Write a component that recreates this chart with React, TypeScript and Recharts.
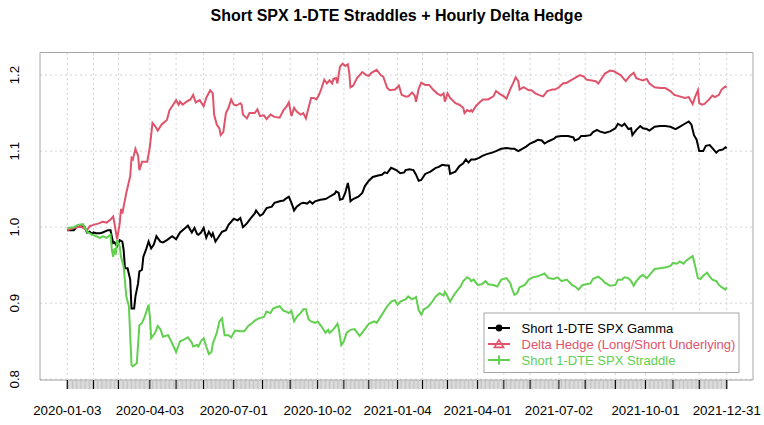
import React from "react";
import { LineChart, Line, XAxis, YAxis, CartesianGrid, ReferenceLine, ReferenceArea } from "recharts";

// trading-day index (0 = 2020-01-03) and cumulative value
const GAMMA: [number, number][] = [
  [0, 0.996], [5, 0.996], [7, 1.0], [10, 1.001], [13, 1.001], [15, 0.993], [17, 0.994], [19, 0.991], [20, 0.993],
  [22, 0.992], [25, 0.992], [27, 0.993], [31, 0.996], [33, 0.996], [35, 0.979], [36, 0.98], [38, 0.975], [39, 0.979],
  [40, 0.983], [42, 0.981], [43, 0.97], [44, 0.946], [46, 0.946], [48, 0.931], [49, 0.893], [51, 0.893], [52, 0.909],
  [54, 0.926], [55, 0.942], [57, 0.944], [58, 0.961], [60, 0.97], [62, 0.981], [64, 0.972], [66, 0.977], [68, 0.988],
  [71, 0.981], [73, 0.98], [76, 0.983], [80, 0.988], [83, 0.984], [86, 0.993], [90, 0.999], [92, 1.002], [95, 0.993],
  [97, 0.999], [99, 0.991], [100, 0.99], [102, 0.993], [104, 0.999], [106, 0.986], [108, 0.994], [110, 0.988],
  [111, 0.992], [113, 0.981], [115, 0.986], [118, 0.994], [121, 0.996], [123, 1.003], [127, 1.011], [130, 1.009],
  [132, 1.012], [134, 1.0], [137, 1.005], [140, 1.012], [143, 1.018], [144, 1.022], [147, 1.015], [149, 1.017],
  [152, 1.025], [156, 1.027], [158, 1.032], [162, 1.034], [165, 1.035], [167, 1.038], [169, 1.04], [171, 1.032],
  [173, 1.022], [175, 1.027], [178, 1.031], [180, 1.032], [183, 1.031], [185, 1.034], [187, 1.031], [189, 1.034],
  [193, 1.036], [197, 1.037], [200, 1.04], [204, 1.044], [205, 1.047], [207, 1.045], [208, 1.036], [210, 1.037],
  [212, 1.045], [214, 1.058], [215, 1.049], [216, 1.034], [218, 1.037], [222, 1.04], [225, 1.045], [227, 1.054],
  [230, 1.061], [233, 1.066], [237, 1.068], [240, 1.069], [242, 1.072], [244, 1.071], [247, 1.078], [251, 1.075],
  [254, 1.071], [257, 1.072], [258, 1.075], [261, 1.076], [264, 1.075], [266, 1.069], [268, 1.061], [270, 1.062],
  [273, 1.07], [277, 1.073], [281, 1.078], [283, 1.079], [286, 1.082], [289, 1.081], [291, 1.081], [292, 1.07],
  [296, 1.073], [299, 1.08], [302, 1.084], [304, 1.089], [306, 1.085], [308, 1.089], [311, 1.089], [314, 1.091],
  [317, 1.094], [320, 1.096], [324, 1.098], [327, 1.1], [331, 1.103], [335, 1.104], [339, 1.103], [341, 1.103],
  [344, 1.1], [347, 1.103], [350, 1.106], [353, 1.11], [357, 1.113], [359, 1.115], [362, 1.114], [364, 1.11],
  [367, 1.113], [371, 1.116], [373, 1.119], [377, 1.12], [382, 1.12], [386, 1.118], [387, 1.114], [390, 1.116],
  [392, 1.12], [395, 1.12], [399, 1.121], [401, 1.125], [404, 1.128], [406, 1.126], [410, 1.124], [414, 1.126],
  [418, 1.13], [420, 1.136], [423, 1.133], [425, 1.136], [428, 1.129], [430, 1.13], [431, 1.121], [434, 1.128],
  [437, 1.133], [439, 1.13], [442, 1.129], [444, 1.127], [448, 1.132], [452, 1.133], [456, 1.133], [460, 1.132],
  [464, 1.129], [467, 1.132], [471, 1.136], [474, 1.139], [476, 1.135], [478, 1.121], [480, 1.115], [482, 1.1],
  [485, 1.1], [487, 1.107], [490, 1.108], [492, 1.104], [495, 1.098], [497, 1.101], [500, 1.102], [502, 1.105],
  [503, 1.104],
];

const HEDGE: [number, number][] = [
  [0, 0.996], [5, 0.999], [10, 1.001], [12, 0.999], [15, 0.996], [17, 1.001], [20, 1.003], [24, 1.005], [27, 1.007],
  [30, 1.006], [33, 1.01], [35, 1.014], [36, 1.005], [38, 0.984], [40, 1.005], [41, 1.024], [42, 1.018], [43, 1.027],
  [45, 1.045], [48, 1.067], [49, 1.091], [50, 1.089], [52, 1.103], [54, 1.094], [55, 1.075], [57, 1.086], [61, 1.086],
  [63, 1.106], [65, 1.137], [67, 1.133], [69, 1.127], [72, 1.135], [76, 1.141], [78, 1.154], [80, 1.159], [83, 1.167],
  [85, 1.161], [86, 1.165], [88, 1.161], [91, 1.165], [94, 1.168], [96, 1.174], [98, 1.164], [101, 1.167],
  [104, 1.159], [106, 1.17], [109, 1.18], [111, 1.176], [112, 1.148], [114, 1.135], [116, 1.13], [117, 1.121],
  [119, 1.125], [121, 1.15], [123, 1.157], [125, 1.168], [127, 1.161], [129, 1.16], [132, 1.163], [133, 1.161],
  [134, 1.148], [137, 1.143], [139, 1.15], [143, 1.15], [145, 1.155], [147, 1.146], [150, 1.147], [152, 1.142],
  [155, 1.148], [158, 1.145], [162, 1.144], [165, 1.154], [167, 1.158], [169, 1.164], [171, 1.146], [173, 1.157],
  [175, 1.152], [178, 1.148], [180, 1.15], [182, 1.143], [184, 1.157], [186, 1.17], [188, 1.17], [190, 1.168],
  [192, 1.174], [194, 1.183], [196, 1.194], [198, 1.189], [200, 1.193], [202, 1.189], [203, 1.195], [205, 1.196],
  [206, 1.189], [208, 1.211], [210, 1.215], [212, 1.212], [214, 1.214], [215, 1.204], [216, 1.184], [218, 1.186],
  [221, 1.196], [225, 1.204], [228, 1.2], [230, 1.199], [232, 1.203], [236, 1.207], [239, 1.2], [241, 1.198],
  [244, 1.183], [246, 1.18], [250, 1.181], [253, 1.186], [255, 1.174], [258, 1.172], [260, 1.172], [263, 1.177],
  [265, 1.173], [266, 1.165], [268, 1.182], [270, 1.19], [273, 1.187], [276, 1.187], [279, 1.181], [282, 1.176],
  [285, 1.173], [287, 1.176], [288, 1.165], [290, 1.176], [292, 1.17], [296, 1.163], [299, 1.161], [302, 1.157],
  [303, 1.15], [305, 1.154], [307, 1.152], [308, 1.154], [309, 1.152], [312, 1.16], [315, 1.165], [317, 1.168],
  [321, 1.168], [325, 1.172], [327, 1.179], [330, 1.175], [333, 1.172], [335, 1.169], [338, 1.182], [340, 1.189],
  [342, 1.197], [344, 1.192], [345, 1.181], [348, 1.184], [352, 1.18], [354, 1.18], [357, 1.176], [361, 1.173],
  [363, 1.172], [366, 1.179], [370, 1.181], [372, 1.181], [375, 1.184], [378, 1.189], [381, 1.19], [384, 1.193],
  [387, 1.196], [391, 1.2], [394, 1.198], [396, 1.194], [400, 1.193], [403, 1.192], [405, 1.189], [407, 1.194],
  [410, 1.202], [411, 1.203], [414, 1.206], [417, 1.205], [419, 1.203], [422, 1.2], [424, 1.196], [426, 1.192],
  [429, 1.199], [432, 1.203], [434, 1.196], [437, 1.194], [439, 1.193], [442, 1.195], [444, 1.189], [448, 1.184],
  [452, 1.183], [456, 1.183], [460, 1.179], [463, 1.174], [467, 1.172], [471, 1.17], [474, 1.171], [475, 1.168],
  [477, 1.162], [479, 1.172], [481, 1.18], [482, 1.163], [484, 1.161], [486, 1.162], [489, 1.167], [492, 1.173],
  [494, 1.171], [497, 1.174], [499, 1.181], [502, 1.185], [503, 1.184],
];

const STRADDLE: [number, number][] = [
  [0, 0.999], [5, 1.0], [8, 1.003], [12, 1.004], [15, 0.994], [19, 0.99], [21, 0.989], [25, 0.986], [27, 0.988],
  [30, 0.986], [33, 0.99], [34, 0.97], [35, 0.961], [36, 0.972], [37, 0.964], [38, 0.983], [40, 0.975], [41, 0.961],
  [43, 0.948], [45, 0.909], [47, 0.896], [49, 0.819], [50, 0.817], [53, 0.821], [55, 0.871], [57, 0.874], [59, 0.882],
  [62, 0.898], [63, 0.882], [64, 0.854], [67, 0.861], [69, 0.87], [71, 0.866], [73, 0.856], [77, 0.858], [80, 0.847],
  [83, 0.836], [85, 0.845], [86, 0.85], [89, 0.852], [92, 0.855], [95, 0.848], [96, 0.843], [99, 0.845], [100, 0.843],
  [102, 0.85], [104, 0.854], [106, 0.843], [108, 0.833], [110, 0.836], [111, 0.847], [114, 0.861], [116, 0.876],
  [118, 0.88], [120, 0.858], [123, 0.858], [125, 0.855], [127, 0.861], [128, 0.864], [132, 0.863], [135, 0.863],
  [138, 0.87], [141, 0.874], [143, 0.877], [146, 0.88], [150, 0.882], [152, 0.889], [155, 0.887], [157, 0.893],
  [160, 0.895], [162, 0.896], [165, 0.89], [167, 0.889], [169, 0.887], [171, 0.89], [173, 0.876], [175, 0.882],
  [178, 0.887], [180, 0.892], [182, 0.892], [184, 0.879], [186, 0.876], [189, 0.874], [191, 0.876], [194, 0.869],
  [197, 0.861], [199, 0.865], [200, 0.861], [202, 0.864], [204, 0.868], [206, 0.873], [207, 0.867], [209, 0.845],
  [211, 0.85], [213, 0.861], [216, 0.865], [219, 0.866], [223, 0.857], [227, 0.866], [230, 0.873], [234, 0.876],
  [236, 0.874], [240, 0.885], [244, 0.896], [247, 0.902], [250, 0.904], [252, 0.898], [254, 0.902], [258, 0.905],
  [260, 0.909], [263, 0.905], [266, 0.908], [268, 0.891], [270, 0.885], [272, 0.892], [275, 0.895], [278, 0.901],
  [281, 0.909], [284, 0.913], [287, 0.91], [288, 0.915], [290, 0.909], [292, 0.902], [295, 0.911], [298, 0.918],
  [300, 0.922], [302, 0.929], [305, 0.934], [307, 0.932], [308, 0.929], [310, 0.931], [313, 0.924], [316, 0.925],
  [319, 0.929], [321, 0.925], [325, 0.924], [328, 0.922], [331, 0.931], [335, 0.933], [338, 0.926], [339, 0.92],
  [341, 0.911], [343, 0.913], [345, 0.921], [349, 0.924], [352, 0.931], [355, 0.934], [358, 0.935], [361, 0.937],
  [364, 0.939], [367, 0.933], [371, 0.932], [374, 0.934], [377, 0.929], [381, 0.931], [385, 0.924], [388, 0.921],
  [390, 0.918], [393, 0.924], [396, 0.925], [399, 0.926], [401, 0.932], [405, 0.935], [408, 0.931], [410, 0.927],
  [414, 0.923], [418, 0.924], [420, 0.931], [423, 0.931], [425, 0.934], [428, 0.933], [430, 0.929], [432, 0.923],
  [434, 0.929], [437, 0.935], [439, 0.937], [442, 0.933], [444, 0.937], [448, 0.945], [452, 0.946], [456, 0.947],
  [460, 0.949], [462, 0.953], [465, 0.952], [467, 0.955], [470, 0.952], [472, 0.956], [476, 0.961], [477, 0.962],
  [479, 0.948], [481, 0.933], [483, 0.932], [485, 0.936], [488, 0.94], [490, 0.935], [492, 0.931], [495, 0.929],
  [497, 0.924], [499, 0.921], [502, 0.918], [503, 0.921],
];

// first trading day of each month (plus the last day), as day indices
const MONTH_TICKS = [0, 20, 39, 63, 83, 104, 127, 149, 170, 191, 211, 230, 252, 271, 290, 313, 333, 353, 375, 395, 418, 441, 462, 482, 503];
const LABEL_TICKS = [0, 63, 127, 191, 252, 313, 375, 441, 503];
const LABEL_TEXT = ["2020-01-03", "2020-04-03", "2020-07-01", "2020-10-02", "2021-01-04", "2021-04-01", "2021-07-02", "2021-10-01", "2021-12-31"];
const Y_TICKS = [0.8, 0.9, 1.0, 1.1, 1.2];
const N_DAYS = 504;

const X_MIN = -20.8;
const X_MAX = 523;
const Y_MIN = 0.799;
const Y_MAX = 1.2297;

const RED = "#DF536B";
const GREEN = "#61D04F";
const GRID = "#d3d3d3";
const FRAME = "#a6a6a6";
const FONT = "'Liberation Sans', Arial, sans-serif";

const DAY_TICKS = Array.from({ length: N_DAYS }, (_, i) => i);
const toRows = (pts: [number, number][]) => pts.map(([d, v]) => ({ d, v }));

function DayTick({ x, y, payload }: any) {
  const d = payload.value;
  const major = MONTH_TICKS.includes(d);
  const li = LABEL_TICKS.indexOf(d);
  return (
    <g>
      <line x1={x} x2={x} y1={y} y2={y + 9} stroke={major ? "#000" : "#bdbdbd"} strokeWidth={major ? 1.2 : 0.9} />
      {li >= 0 && (
        <text x={x} y={y + 34.5} textAnchor="middle" fontSize={13.33} fill="#000">
          {LABEL_TEXT[li]}
        </text>
      )}
    </g>
  );
}

function ValueTick({ x, y, payload }: any) {
  return (
    <text transform={`translate(${x - 21},${y}) rotate(-90)`} textAnchor="middle" fontSize={13.33} fill="#000">
      {payload.value.toFixed(1)}
    </text>
  );
}

const LEGEND = [
  { name: "Short 1-DTE SPX Gamma", color: "#000", mark: "dot" },
  { name: "Delta Hedge (Long/Short Underlying)", color: RED, mark: "tri" },
  { name: "Short 1-DTE SPX Straddle", color: GREEN, mark: "plus" },
];

function Overlay() {
  return (
    <svg width={764} height={425} style={{ position: "absolute", left: 0, top: 0, pointerEvents: "none" }}>
      <text x={396.5} y={20.7} textAnchor="middle" fontSize={16} fontWeight="bold" fill="#000">
        Short SPX 1-DTE Straddles + Hourly Delta Hedge
      </text>
      <rect x={484} y={313} width={255} height={59.5} fill="#fff" stroke={FRAME} strokeWidth={1} />
      {LEGEND.map((e, i) => {
        const cy = 328 + i * 16;
        return (
          <g key={e.name}>
            <line x1={488} x2={510} y1={cy} y2={cy} stroke={e.color} strokeWidth={2} />
            {e.mark === "dot" && <circle cx={499} cy={cy} r={3.4} fill={e.color} />}
            {e.mark === "tri" && (
              <polygon
                points={`499,${cy - 4.2} 503.6,${cy + 3.4} 494.4,${cy + 3.4}`}
                fill="none"
                stroke={e.color}
                strokeWidth={1.6}
              />
            )}
            {e.mark === "plus" && (
              <line x1={499} x2={499} y1={cy - 4.5} y2={cy + 4.5} stroke={e.color} strokeWidth={2} />
            )}
            <text x={521.5} y={cy + 4.6} fontSize={13} fill={e.color}>
              {e.name}
            </text>
          </g>
        );
      })}
    </svg>
  );
}

export default function App() {
  return (
    <div style={{ position: "absolute", left: 0, top: 0, width: 764, height: 425, background: "#fff", fontFamily: FONT }}>
      <LineChart width={764} height={425} margin={{ top: 52.5, right: 11, bottom: 0, left: 0 }}>
        <CartesianGrid vertical={false} stroke={GRID} strokeDasharray="2 3" />
        {MONTH_TICKS.map((m) => (
          <ReferenceLine key={m} x={m} stroke={GRID} strokeDasharray="2 3" />
        ))}
        <XAxis
          dataKey="d"
          type="number"
          domain={[X_MIN, X_MAX]}
          allowDataOverflow
          ticks={DAY_TICKS}
          interval={0}
          tick={(p: any) => <DayTick {...p} />}
          tickLine={false}
          axisLine={false}
          tickSize={0}
          tickMargin={0}
          height={45}
        />
        <YAxis
          type="number"
          domain={[Y_MIN, Y_MAX]}
          allowDataOverflow
          ticks={Y_TICKS}
          interval={0}
          tick={(p: any) => <ValueTick {...p} />}
          tickLine={false}
          axisLine={false}
          tickSize={0}
          tickMargin={0}
          width={40}
        />
        <ReferenceArea x1={X_MIN} x2={X_MAX} y1={Y_MIN} y2={Y_MAX} fill="#fff" fillOpacity={0} stroke={FRAME} strokeWidth={1} />
        <Line data={toRows(GAMMA)} dataKey="v" type="linear" stroke="#000" strokeWidth={2} dot={false} isAnimationActive={false} />
        <Line data={toRows(HEDGE)} dataKey="v" type="linear" stroke={RED} strokeWidth={2} dot={false} isAnimationActive={false} />
        <Line data={toRows(STRADDLE)} dataKey="v" type="linear" stroke={GREEN} strokeWidth={2} dot={false} isAnimationActive={false} />
      </LineChart>
      <Overlay />
    </div>
  );
}
